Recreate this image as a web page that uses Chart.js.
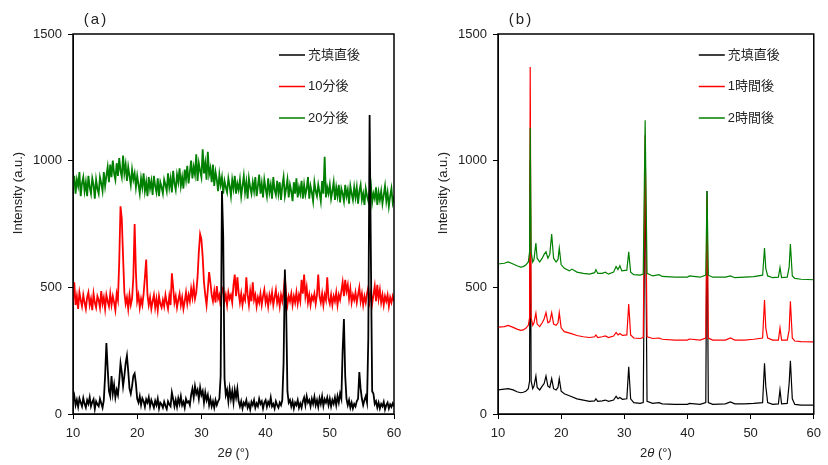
<!DOCTYPE html>
<html>
<head>
<meta charset="utf-8">
<script src="https://cdn.jsdelivr.net/npm/chart.js@4.4.0/dist/chart.umd.min.js"></script>
<style>
html, body { margin: 0; padding: 0; background: #fff; }
#wrap { width: 828px; height: 465px; display: flex; }
canvas { display: block; }
</style>
</head>
<body>
<div id="wrap">
  <canvas id="chartA" width="414" height="465"></canvas>
  <canvas id="chartB" width="414" height="465"></canvas>
</div>
<script>
// Panel (a): scan 10-60 deg, 0.2 deg step
const aStart = 10;
const aStep = 0.2;

// 充填直後 (a)
const aBlack = [
  50, 72, 35, 56, 28, 61, 45, 30, 63, 40,
  25, 55, 40, 66, 30, 47, 58, 20, 50, 38,
  30, 60, 42, 25, 55, 150, 280, 180, 90, 70,
  150, 80, 115, 65, 95, 75, 130, 200, 165, 110,
  150, 200, 230, 170, 100, 80, 110, 150, 160, 120,
  60, 45, 70, 35, 62, 50, 28, 58, 45, 66,
  30, 55, 40, 25, 52, 35, 60, 22, 45, 38,
  25, 48, 32, 20, 50, 38, 30, 85, 60, 30,
  55, 28, 62, 40, 70, 35, 48, 25, 60, 45,
  50, 35, 75, 100, 65, 110, 80, 95, 60, 105,
  75, 90, 45, 85, 55, 75, 35, 60, 30, 50,
  25, 55, 35, 50, 60, 150, 880, 700, 140, 75,
  95, 50, 100, 60, 90, 45, 95, 65, 100, 50,
  30, 50, 22, 45, 35, 55, 25, 40, 18, 48,
  35, 55, 25, 42, 30, 60, 40, 50, 22, 45,
  55, 28, 48, 35, 65, 30, 40, 22, 50, 35,
  25, 45, 35, 55, 200, 570, 420, 90, 45, 55,
  30, 50, 22, 45, 35, 55, 25, 42, 25, 50,
  65, 35, 70, 45, 55, 30, 60, 40, 68, 35,
  55, 28, 62, 40, 70, 32, 58, 45, 65, 35,
  60, 30, 55, 40, 65, 35, 70, 45, 80, 60,
  250, 375, 150, 60, 35, 55, 25, 45, 22, 40,
  30, 50, 60, 166, 100, 60, 35, 55, 70, 45,
  300, 1180, 620, 90, 80, 40, 50, 25, 45, 22,
  40, 30, 48, 18, 35, 45, 22, 38, 28, 42,
  30
];

// 10分後
const aRed = [
  440, 520, 430, 465, 415, 480, 450, 425, 470, 440,
  415, 460, 480, 430, 455, 410, 475, 440, 420, 465,
  450, 420, 485, 435, 460, 415, 470, 445, 425, 475,
  430, 465, 440, 410, 475, 450, 600, 820, 770, 620,
  480, 435, 460, 415, 470, 430, 455, 540, 750, 560,
  445, 470, 420, 455, 430, 475, 540, 610, 470, 430,
  460, 415, 445, 470, 420, 455, 410, 465, 435, 420,
  450, 425, 470, 440, 415, 465, 430, 555, 500, 440,
  465, 420, 450, 475, 430, 460, 415, 445, 480, 435,
  470, 445, 495, 460, 505, 455, 480, 540, 640, 710,
  690, 620, 520, 470, 430, 490, 560, 520, 470, 445,
  485, 440, 505, 455, 470, 425, 490, 500, 445, 470,
  430, 480, 455, 470, 440, 510, 550, 465, 540, 480,
  440, 475, 430, 465, 450, 540, 470, 430, 485, 445,
  520, 450, 470, 425, 460, 440, 475, 430, 465, 490,
  440, 465, 425, 470, 445, 480, 430, 460, 490, 440,
  465, 425, 470, 445, 480, 540, 470, 430, 465, 445,
  475, 430, 465, 440, 480, 435, 470, 445, 530, 475,
  550, 465, 500, 440, 470, 430, 465, 450, 475, 435,
  470, 550, 465, 440, 475, 430, 470, 450, 540, 455,
  435, 470, 430, 465, 445, 480, 430, 470, 450, 485,
  520, 465, 530, 485, 510, 455, 495, 440, 470, 450,
  480, 440, 470, 500, 445, 475, 430, 465, 440, 475,
  500, 445, 480, 435, 470, 505, 445, 510, 455, 490,
  440, 470, 430, 465, 445, 470, 425, 460, 440, 465,
  445
];

// 20分後
const aGreen = [
  895, 940, 870, 925, 900, 955, 860, 910, 935, 880,
  915, 860, 940, 895, 870, 930, 905, 850, 925, 890,
  870, 935, 910, 880, 955, 900, 940, 975, 915, 985,
  935, 1000, 950, 925, 990, 940, 1010, 960, 935, 1020,
  950, 985, 920, 975, 940, 905, 965, 925, 950, 895,
  940, 905, 870, 930, 895, 950, 880, 915, 860, 935,
  890, 920, 865, 940, 900, 875, 930, 860, 915, 895,
  870, 925, 905, 880, 950, 895, 930, 875, 960, 910,
  885, 945, 915, 970, 900, 935, 890, 965, 925, 980,
  910, 955, 1000, 930, 975, 945, 1025, 920, 990, 960,
  935, 1045, 950, 990, 925, 1035, 945, 970, 915, 985,
  900, 955, 925, 880, 945, 905, 935, 870, 920, 895,
  875, 930, 900, 860, 925, 890, 940, 870, 910, 885,
  925, 860, 900, 940, 875, 915, 850, 930, 895, 870,
  915, 880, 935, 860, 900, 945, 870, 910, 855, 925,
  890, 860, 930, 875, 905, 850, 935, 885, 865, 920,
  870, 915, 845, 900, 935, 860, 890, 925, 855, 905,
  880, 840, 915, 870, 930, 855, 895, 870, 920, 850,
  905, 865, 890, 935, 850, 900, 875, 840, 915, 880,
  860, 905, 875, 840, 920, 870, 1015, 855, 895, 870,
  905, 850, 880, 915, 845, 895, 860, 905, 835, 890,
  870, 840, 905, 860, 885, 830, 900, 870, 845, 895,
  855, 895, 830, 880, 905, 845, 870, 825, 890, 860,
  840, 880, 905, 835, 870, 850, 895, 825, 875, 845,
  880, 830, 865, 900, 840, 875, 820, 860, 890, 835,
  860
];

// Panel (b): [2theta, intensity]
const bBlack = [
  [10, 95], [11, 98], [11.6, 100], [12.4, 95], [13, 88], [13.6, 84], [14, 86], [14.4, 90],
  [14.8, 100], [15.0, 130], [15.1, 1000], [15.25, 130], [15.5, 100], [15.7, 110], [16.0, 150],
  [16.2, 105], [16.6, 95], [17.0, 110], [17.3, 120], [17.6, 150], [17.9, 110], [18.2, 105],
  [18.5, 140], [18.8, 100], [19.2, 95], [19.5, 105], [19.7, 140], [20.0, 90], [20.5, 80],
  [21.5, 70], [22.5, 60], [23.5, 55], [24.5, 50], [25.3, 52], [25.5, 60], [25.8, 50],
  [26.5, 52], [27, 55], [27.5, 50], [28.3, 55], [28.7, 70], [29, 60], [29.3, 65], [29.7, 58],
  [30.4, 60], [30.7, 186], [31.0, 60], [31.5, 45], [32.5, 42], [33.0, 45], [33.3, 1000],
  [33.6, 50], [34.5, 42], [35.5, 45], [36, 40], [38, 38], [40, 38], [40.3, 42], [42, 38],
  [42.9, 45], [43.1, 880], [43.3, 45], [44, 38], [46, 40], [46.8, 48], [47.5, 40], [49, 40],
  [50.5, 42], [51.9, 45], [52.2, 200], [52.4, 110], [52.7, 45], [53.5, 38], [54.4, 40],
  [54.65, 95], [54.9, 40], [55.8, 42], [56.1, 120], [56.3, 210], [56.6, 60], [57, 38],
  [58, 35], [60, 35]
];

const bRed = [
  [10, 343], [11, 345], [11.6, 350], [12.4, 342], [13, 335], [13.6, 330], [14, 332], [14.4, 338],
  [14.8, 350], [15.0, 380], [15.1, 1370], [15.25, 380], [15.5, 350], [15.7, 360], [16.0, 398],
  [16.2, 355], [16.6, 345], [17.0, 360], [17.3, 375], [17.6, 400], [17.9, 360], [18.2, 365],
  [18.5, 400], [18.8, 355], [19.2, 350], [19.5, 360], [19.7, 400], [20.0, 340], [20.5, 325],
  [21.5, 318], [22.5, 310], [23.5, 305], [24.5, 302], [25.3, 305], [25.5, 312], [25.8, 302],
  [26.5, 305], [27, 308], [27.5, 302], [28.3, 308], [28.7, 322], [29, 312], [29.3, 318], [29.7, 310],
  [30.4, 312], [30.7, 434], [31.0, 312], [31.5, 300], [32.5, 298], [33.0, 302], [33.3, 1100],
  [33.6, 305], [34.5, 298], [35.5, 300], [36, 295], [38, 292], [40, 292], [40.3, 296], [42, 292],
  [42.9, 300], [43.1, 850], [43.3, 300], [44, 292], [46, 292], [46.8, 300], [47.5, 292], [49, 292],
  [50.5, 295], [51.9, 300], [52.2, 450], [52.4, 340], [52.7, 300], [53.5, 292], [54.4, 292],
  [54.65, 340], [54.9, 292], [55.8, 292], [56.1, 330], [56.3, 445], [56.6, 300], [57, 288],
  [58, 286], [60, 285]
];

const bGreen = [
  [10, 592], [11, 595], [11.6, 600], [12.4, 592], [13, 585], [13.6, 580], [14, 582], [14.4, 588],
  [14.8, 600], [15.0, 640], [15.1, 1130], [15.25, 640], [15.5, 600], [15.7, 610], [16.0, 675],
  [16.2, 615], [16.6, 600], [17.0, 615], [17.3, 630], [17.6, 640], [17.9, 615], [18.2, 630],
  [18.5, 710], [18.8, 615], [19.2, 600], [19.5, 610], [19.7, 655], [20.0, 590], [20.5, 575],
  [21.3, 565], [21.7, 572], [22.5, 560], [23.5, 555], [24.5, 552], [25.3, 558], [25.5, 570],
  [25.8, 555], [26.5, 555], [27, 560], [27.5, 552], [28.3, 560], [28.7, 582], [29, 570],
  [29.3, 585], [29.6, 565], [30.4, 568], [30.7, 640], [31.0, 560], [31.5, 550], [32.5, 548],
  [33.0, 552], [33.3, 1160], [33.6, 555], [34.5, 545], [35.5, 550], [36, 543], [38, 540],
  [40, 540], [40.3, 545], [42, 540], [42.9, 548], [43.1, 880], [43.3, 548], [44, 540], [46, 540],
  [46.8, 545], [47.5, 538], [49, 540], [50.5, 542], [51.9, 548], [52.2, 655], [52.4, 575],
  [52.7, 545], [53.5, 538], [54.4, 540], [54.65, 578], [54.9, 538], [55.8, 540], [56.1, 580],
  [56.3, 671], [56.6, 545], [57, 535], [58, 532], [60, 530]
];

const aLabels = ['充填直後', '10分後', '20分後'];
const bLabels = ['充填直後', '1時間後', '2時間後'];
const xTicks = [10, 20, 30, 40, 50, 60];
const yTicks = [0, 500, 1000, 1500];
const colors = ['#000000', '#ff0000', '#008000'];

const TICK_FONT = { family: '"Liberation Sans", Arial, sans-serif', size: 13 };
const TEXT_COLOR = '#222';

function scanPoints(values) {
  return values.map((v, i) => ({ x: Math.round((aStart + i * aStep) * 10) / 10, y: v }));
}

// frame, panel label, legend inside plot, axis titles
const decor = {
  id: 'decor',
  afterDatasetsDraw(chart, args, opts) {
    const { ctx, chartArea: a } = chart;
    ctx.save();
    ctx.strokeStyle = '#000';
    ctx.lineWidth = 1.5;
    ctx.strokeRect(a.left, a.top, a.right - a.left, a.bottom - a.top);

    ctx.fillStyle = TEXT_COLOR;
    ctx.textBaseline = 'middle';

    // panel label
    ctx.font = '15px "Liberation Sans", Arial, sans-serif';
    ctx.textAlign = 'center';
    ctx.letterSpacing = '2px';
    ctx.fillText(opts.panel, a.left + 23, a.top - 14);
    ctx.letterSpacing = '0px';

    // legend
    ctx.textAlign = 'left';
    ctx.font = '13px "Liberation Sans", "Noto Sans CJK JP", sans-serif';
    chart.data.datasets.forEach((ds, i) => {
      const y = a.top + 21 + i * 31.5;
      const x2 = a.right - 89;
      ctx.strokeStyle = ds.borderColor;
      ctx.lineWidth = 1.5;
      ctx.beginPath();
      ctx.moveTo(x2 - 26, y);
      ctx.lineTo(x2, y);
      ctx.stroke();
      ctx.fillStyle = TEXT_COLOR;
      ctx.fillText(ds.label, x2 + 3, y);
    });

    // y title
    ctx.save();
    ctx.translate(a.left - 55, a.top + 159);
    ctx.rotate(-Math.PI / 2);
    ctx.textAlign = 'center';
    ctx.font = '13px "Liberation Sans", Arial, sans-serif';
    ctx.fillText('Intensity (a.u.)', 0, 0);
    ctx.restore();

    // x title: 2θ (°), theta in italics
    const parts = [['2', ''], ['θ', 'italic '], [' (°)', '']];
    let total = 0;
    parts.forEach(p => {
      ctx.font = p[1] + '13px "Liberation Sans", Arial, sans-serif';
      total += ctx.measureText(p[0]).width;
    });
    let x = (a.left + a.right) / 2 - total / 2;
    ctx.textAlign = 'left';
    parts.forEach(p => {
      ctx.font = p[1] + '13px "Liberation Sans", Arial, sans-serif';
      ctx.fillText(p[0], x, a.bottom + 39);
      x += ctx.measureText(p[0]).width;
    });
    ctx.restore();
  }
};

function makeChart(id, datasets, panel, yWidth, padRight) {
  return new Chart(document.getElementById(id), {
    type: 'line',
    data: { datasets },
    options: {
      responsive: false,
      animation: false,
      layout: { padding: { top: 34, right: padRight, left: 0, bottom: 0 } },
      elements: { point: { radius: 0 }, line: { tension: 0 } },
      plugins: {
        legend: { display: false },
        tooltip: { enabled: false },
        decor: { panel }
      },
      scales: {
        x: {
          type: 'linear',
          min: 10,
          max: 60,
          afterBuildTicks: s => { s.ticks = xTicks.map(v => ({ value: v })); },
          afterFit: s => { s.height = 51; },
          grid: { drawOnChartArea: false, drawTicks: true, tickLength: 5, color: '#000' },
          border: { display: true, color: '#000', width: 1 },
          ticks: { font: TICK_FONT, color: TEXT_COLOR, padding: 7, maxRotation: 0, callback: v => String(v) }
        },
        y: {
          type: 'linear',
          min: 0,
          max: 1500,
          afterBuildTicks: s => { s.ticks = yTicks.map(v => ({ value: v })); },
          afterFit: s => { s.width = yWidth; },
          grid: { drawOnChartArea: false, drawTicks: true, tickLength: 5, color: '#000' },
          border: { display: true, color: '#000', width: 1 },
          ticks: { font: TICK_FONT, color: TEXT_COLOR, padding: 6, callback: v => String(v) }
        }
      }
    },
    plugins: [decor]
  });
}

// (a): black drawn on top (dataset 0 is drawn last by default)
makeChart('chartA', [
  { label: aLabels[0], data: scanPoints(aBlack), borderColor: colors[0], borderWidth: 1.8 },
  { label: aLabels[1], data: scanPoints(aRed), borderColor: colors[1], borderWidth: 1.8 },
  { label: aLabels[2], data: scanPoints(aGreen), borderColor: colors[2], borderWidth: 1.8 }
], '(a)', 73, 20);

// (b): green drawn on top
makeChart('chartB', [
  { label: bLabels[0], data: bBlack, borderColor: colors[0], borderWidth: 1.2, order: 2 },
  { label: bLabels[1], data: bRed, borderColor: colors[1], borderWidth: 1.2, order: 1 },
  { label: bLabels[2], data: bGreen, borderColor: colors[2], borderWidth: 1.2, order: 0 }
], '(b)', 84, 9);
</script>
</body>
</html>
